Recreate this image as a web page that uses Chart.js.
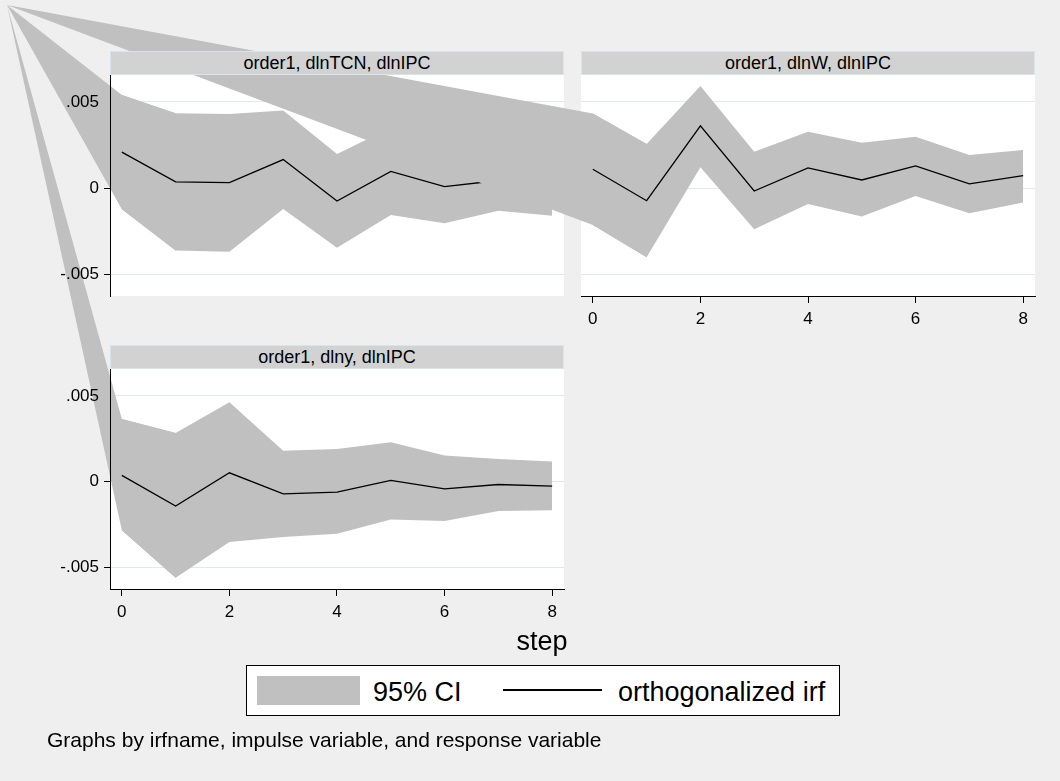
<!DOCTYPE html>
<html>
<head>
<meta charset="utf-8">
<script src="https://cdn.jsdelivr.net/npm/chart.js@4.4.0/dist/chart.umd.min.js"></script>
<style>
  body { margin: 0; background: #efefef; font-family: "Liberation Sans", Arial, sans-serif; color: #000; }
  #wrap { position: relative; width: 1060px; height: 781px; overflow: hidden; background: #efefef; }
  canvas { position: absolute; left: 0; top: 0; }
  .strip {
    position: absolute; box-sizing: border-box; background: #d2d2d2; border: 1px solid #d8e6ea;
    text-align: center; font-size: 18px; line-height: 22px; white-space: nowrap;
  }
  #step { position: absolute; left: 442px; top: 626px; width: 200px; text-align: center; font-size: 27px; line-height: 30px; }
  #legend { position: absolute; left: 246px; top: 665px; width: 594px; height: 51px; box-sizing: border-box; border: 1px solid #000; background: #fff; }
  #legend .swatch { position: absolute; left: 10px; top: 10px; width: 103px; height: 29px; background: #c0c0c0; }
  #legend .dash { position: absolute; left: 256px; top: 23px; width: 99px; height: 2px; background: #000; }
  #legend .lab { position: absolute; top: 11px; font-size: 27px; line-height: 30px; white-space: nowrap; }
  #note { position: absolute; left: 47px; top: 728px; font-size: 21px; line-height: 24px; white-space: nowrap; }
</style>
</head>
<body>
<div id="wrap">
  <canvas id="panel3" width="1060" height="781"></canvas>
  <canvas id="panel1" width="1060" height="781"></canvas>
  <canvas id="panel2" width="1060" height="781"></canvas>

  <div class="strip" id="strip1"></div>
  <div class="strip" id="strip2"></div>
  <div class="strip" id="strip3"></div>

  <div id="step">step</div>
  <div id="legend">
    <span class="swatch"></span>
    <span class="lab" style="left:126px">95% CI</span>
    <span class="dash"></span>
    <span class="lab" style="left:371px">orthogonalized irf</span>
  </div>
  <div id="note">Graphs by irfname, impulse variable, and response variable</div>
</div>

<script>
Chart.defaults.font.family = '"Liberation Sans", Arial, sans-serif';
Chart.defaults.color = '#000';

const steps = [0, 1, 2, 3, 4, 5, 6, 7, 8];

// order1, impulse dlnTCN, response dlnIPC
const tcnIrf   = [0.00209, 0.00037, 0.00033, 0.00166, -0.00074, 0.00098, 0.0001, 0.00045, 0.0004];
const tcnLower = [-0.00122, -0.00361, -0.00367, -0.0012, -0.00344, -0.00155, -0.00203, -0.0013, -0.00159];
const tcnUpper = [0.0054, 0.00434, 0.0043, 0.0045, 0.00199, 0.0035, 0.0025, 0.0022, 0.002];

// order1, impulse dlnW, response dlnIPC
const wIrf   = [0.0011, -0.00072, 0.00361, -0.00016, 0.00118, 0.00048, 0.00129, 0.00025, 0.00073];
const wLower = [-0.00213, -0.004, 0.00122, -0.00238, -0.00091, -0.00164, -0.00045, -0.00145, -0.00083];
const wUpper = [0.00433, 0.00257, 0.00593, 0.00212, 0.00328, 0.00264, 0.00299, 0.00193, 0.00222];

// order1, impulse dlny, response dlnIPC
const yIrf   = [0.00037, -0.00141, 0.00052, -0.0007, -0.0006, 0.00008, -0.00041, -0.00016, -0.00025];
const yLower = [-0.00282, -0.00559, -0.0035, -0.00321, -0.00302, -0.00219, -0.00228, -0.0017, -0.00166];
const yUpper = [0.00365, 0.00284, 0.00462, 0.0018, 0.00191, 0.0023, 0.00153, 0.00133, 0.00118];

const yTicks = [-0.005, 0, 0.005];
const yTickLabels = ['-.005', '0', '.005'];
const xTicks = [0, 2, 4, 6, 8];
const panelTitles = ['order1, dlnTCN, dlnIPC', 'order1, dlnW, dlnIPC', 'order1, dlny, dlnIPC'];

const yRange = [-0.00624, 0.00656];
const xRange = [-0.22, 8.22];

const ciGray = '#c0c0c0';
// the CI polygons of the original export all start from a stray point
// in the top-left corner, which leaves a wedge from there to step 0
const strayCorner = { x: 7, y: 5 };

function toPoints(vals) {
    return steps.map((s, i) => ({ x: s, y: vals[i] }));
}

const plotBackground = {
    id: 'plotBackground',
    beforeDraw(chart) {
        const a = chart.chartArea;
        const ctx = chart.ctx;
        ctx.save();
        ctx.fillStyle = '#fff';
        ctx.fillRect(a.left, a.top, a.right - a.left, a.bottom - a.top);
        ctx.restore();
    }
};

// wedge runs on over the first CI segment so no seam shows at step 0
const strayWedge = {
    id: 'strayWedge',
    beforeDatasetsDraw(chart) {
        const up = chart.data.datasets[1].data;
        const lo = chart.data.datasets[2].data;
        const xs = chart.scales.x, ys = chart.scales.y;
        const ctx = chart.ctx;
        ctx.save();
        ctx.fillStyle = ciGray;
        ctx.beginPath();
        ctx.moveTo(strayCorner.x, strayCorner.y);
        ctx.lineTo(xs.getPixelForValue(up[0].x), ys.getPixelForValue(up[0].y));
        ctx.lineTo(xs.getPixelForValue(up[1].x), ys.getPixelForValue(up[1].y));
        ctx.lineTo(xs.getPixelForValue(lo[1].x), ys.getPixelForValue(lo[1].y));
        ctx.lineTo(xs.getPixelForValue(lo[0].x), ys.getPixelForValue(lo[0].y));
        ctx.closePath();
        ctx.fill();
        ctx.restore();
    }
};

function irfPanel(id, irf, lower, upper, area, showX, showY) {
    const yW = showY ? 50 : 0;
    const xH = showX ? 40 : 0;
    return new Chart(document.getElementById(id), {
        type: 'line',
        data: {
            datasets: [{
                label: 'orthogonalized irf',
                data: toPoints(irf),
                borderColor: '#000',
                borderWidth: 1.3,
                pointRadius: 0,
                tension: 0,
                fill: false
            }, {
                label: '95% CI',
                data: toPoints(upper),
                borderWidth: 0,
                borderColor: 'rgba(0,0,0,0)',
                backgroundColor: ciGray,
                pointRadius: 0,
                tension: 0,
                fill: '+1'
            }, {
                label: 'lower',
                data: toPoints(lower),
                borderWidth: 0,
                borderColor: 'rgba(0,0,0,0)',
                pointRadius: 0,
                tension: 0,
                fill: false
            }]
        },
        options: {
            responsive: false,
            animation: false,
            events: [],
            layout: {
                padding: {
                    left: area.left - yW,
                    top: area.top,
                    right: 1060 - area.right,
                    bottom: 781 - area.bottom - xH
                }
            },
            plugins: {
                legend: { display: false },
                tooltip: { enabled: false }
            },
            scales: {
                x: {
                    type: 'linear',
                    min: xRange[0],
                    max: xRange[1],
                    display: showX,
                    afterBuildTicks: s => { s.ticks = xTicks.map(v => ({ value: v })); },
                    afterFit: s => { s.height = xH; },
                    grid: { drawOnChartArea: false, tickLength: 7, tickColor: '#000' },
                    border: { color: '#000', z: 1 },
                    ticks: { font: { size: 17 }, padding: 6, maxRotation: 0, autoSkip: false, z: 1 }
                },
                y: {
                    type: 'linear',
                    min: yRange[0],
                    max: yRange[1],
                    afterBuildTicks: s => { s.ticks = yTicks.map(v => ({ value: v })); },
                    afterFit: s => { s.width = yW; },
                    grid: { color: '#e3e8ea', tickColor: '#000', tickLength: 6, drawTicks: showY },
                    border: { display: showY, color: '#000', z: 1 },
                    ticks: {
                        display: showY,
                        font: { size: 17 },
                        padding: 5,
                        z: 1,
                        callback: (v, i) => yTickLabels[i]
                    }
                }
            }
        },
        plugins: [plotBackground, strayWedge]
    });
}

const chart1 = irfPanel('panel1', tcnIrf, tcnLower, tcnUpper, { left: 110, top: 75, right: 564, bottom: 296 }, false, true);
const chart2 = irfPanel('panel2', wIrf, wLower, wUpper, { left: 581, top: 75, right: 1035, bottom: 296 }, true, false);
const chart3 = irfPanel('panel3', yIrf, yLower, yUpper, { left: 110, top: 369, right: 564, bottom: 589 }, true, true);

// title strips sit on top of everything, above each plot region
[chart1, chart2, chart3].forEach((c, i) => {
    const strip = document.getElementById('strip' + (i + 1));
    const a = c.chartArea;
    strip.textContent = panelTitles[i];
    strip.style.left = a.left + 'px';
    strip.style.top = (a.top - 24) + 'px';
    strip.style.width = (a.right - a.left) + 'px';
    strip.style.height = '24px';
});
</script>
</body>
</html>
